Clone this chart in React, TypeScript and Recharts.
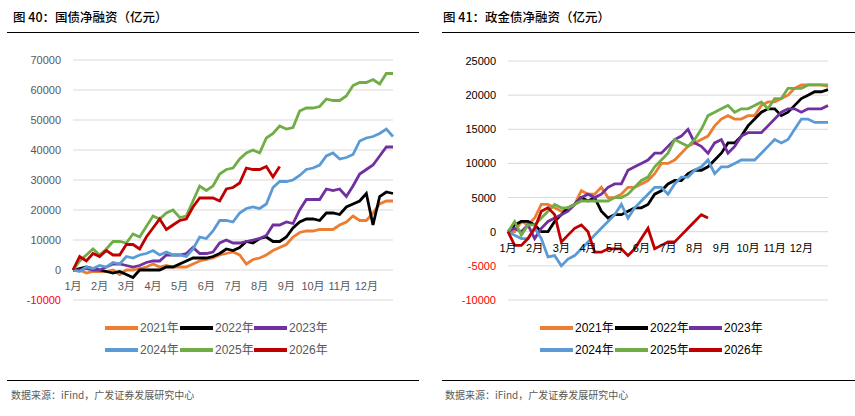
import React from 'react';
import { LineChart, Line, XAxis, YAxis, CartesianGrid, ReferenceDot } from 'recharts';

// month labels sit on the zero line, one per month start
const monthLabels = ['1月', '2月', '3月', '4月', '5月', '6月', '7月', '8月', '9月', '10月', '11月', '12月'];
// sample positions, in months from Jan 1 (4 per month)
const steps = Array.from({ length: 49 }, (_, i) => i / 4);

const years = ['2021年', '2022年', '2023年', '2024年', '2025年', '2026年'];
const colors = ['#ED7D31', '#000000', '#7030A0', '#5B9BD5', '#70AD47', '#C00000'];

// 国债净融资 (亿元)
const gz2021 = [0, 0, -1000, -500, -500, -500, 0, -1500, 0, 0, 500, 1000, 2000, 1000, 1500, 1000, 1000, 1000, 2000, 3000, 3500, 4000, 5000, 5500, 6000, 5000, 2000, 3500, 4000, 5000, 6500, 7500, 8500, 11000, 12500, 13000, 13000, 13500, 13500, 13500, 15000, 16000, 18000, 16500, 16500, 19000, 22000, 23000, 23000];
const gz2022 = [0, 500, 1000, 500, 0, -500, -1000, -500, -1500, -2500, 0, 0, 0, 0, 1000, 1000, 2000, 3000, 4000, 4000, 4000, 4500, 5500, 7000, 6500, 7500, 9500, 9000, 10500, 11000, 9500, 9500, 11000, 14000, 16000, 17000, 17000, 16500, 19000, 19000, 18500, 21000, 22000, 23000, 25500, 15000, 24500, 26000, 25500];
const gz2023 = [0, 0, 500, 0, 0, 1000, 2000, 2000, 1500, 1000, 1500, 2500, 3000, 3000, 5000, 5000, 5000, 5500, 7500, 5500, 5500, 6000, 9000, 10000, 9000, 9000, 9500, 10000, 10500, 11500, 15000, 15000, 16000, 15500, 20000, 23500, 23500, 23500, 27000, 26500, 27000, 24500, 28000, 32000, 33500, 35000, 38000, 41000, 41000];
const gz2024 = [0, -500, 1000, 500, 1500, 1000, 2500, 2000, 4500, 4000, 5000, 5500, 6500, 5000, 6000, 5000, 5000, 4500, 7000, 11000, 10500, 13000, 16500, 16500, 16000, 19000, 20500, 21000, 20500, 22000, 27500, 29500, 29500, 30000, 31500, 33500, 34000, 35000, 38000, 39000, 37000, 37500, 38500, 43000, 44000, 44500, 45500, 47000, 44500];
const gz2025 = [0, 3000, 5000, 7000, 5000, 7000, 9500, 9500, 9000, 12000, 11000, 14500, 18000, 17000, 19000, 20000, 17500, 18000, 23000, 28000, 26500, 28000, 32000, 33500, 34000, 37000, 39000, 40000, 39000, 44000, 45500, 48000, 47000, 47500, 53000, 54000, 54000, 54500, 57000, 56500, 56500, 58000, 61500, 62500, 62500, 63500, 62000, 65500, 65500];
const gz2026 = [0, 4500, 3000, 5500, 4500, 6500, 5000, 5000, 8500, 8500, 7000, 11000, 14000, 17000, 13500, 15000, 16500, 17000, 21000, 24000, 24000, 24000, 23000, 27000, 27500, 29000, 34000, 33500, 33500, 34500, 31000, 34500];

// 政金债净融资 (亿元)
const zj2021 = [0, 0, 1500, 1000, 2000, 4000, 4000, 3500, 3000, 3500, 4000, 6000, 5500, 5500, 6500, 5000, 5000, 5500, 6500, 6500, 7000, 7500, 8500, 10000, 10000, 10500, 11500, 12500, 13000, 13500, 14000, 15500, 16500, 17000, 16500, 16500, 17000, 17000, 18500, 19000, 19000, 19500, 20000, 21000, 21500, 21500, 21500, 21500, 21300];
const zj2022 = [0, 1000, 1500, 1500, 1000, 0, 0, 1500, 2500, 3500, 4000, 5000, 4500, 5000, 3000, 2000, 2500, 2500, 3000, 3500, 3500, 4000, 5500, 6000, 7000, 7500, 7500, 8500, 9000, 9000, 9500, 10500, 11500, 13000, 13000, 14000, 15500, 16500, 17500, 18000, 18000, 17000, 17500, 18500, 19500, 20000, 20500, 20500, 20800];
const zj2023 = [0, 500, 0, 1000, -1000, 500, 1500, 2000, 2500, 3000, 4000, 5000, 5500, 5000, 5500, 6500, 7000, 7000, 9000, 9500, 10000, 10500, 11500, 11500, 12500, 13500, 14000, 15000, 13000, 12500, 11500, 13000, 13500, 11500, 12500, 14000, 14500, 14500, 14500, 15500, 16500, 17500, 18000, 18000, 17500, 18000, 18000, 18000, 18500];
const zj2024 = [0, -500, -1000, -1000, 500, -1000, -3700, -3500, -5000, -4000, -3500, -2500, -1500, -500, 500, 1500, 2500, 4000, 2000, 3500, 4500, 5500, 6500, 6500, 5500, 7000, 8000, 8000, 9000, 9500, 10500, 8500, 9500, 9500, 10000, 10500, 10500, 10500, 11500, 12500, 13500, 13000, 13500, 15000, 16500, 16500, 16000, 16000, 16000];
const zj2025 = [0, 1500, -500, 1000, 1000, 2000, 3000, 4000, 3500, 3500, 4000, 4500, 4500, 4500, 4500, 4500, 5000, 5000, 5500, 6500, 7500, 8000, 9500, 10500, 11500, 13500, 13000, 12500, 13500, 15000, 17000, 17500, 18000, 18500, 17500, 18000, 18000, 18500, 19000, 18000, 19500, 19500, 21000, 21000, 21000, 21500, 21500, 21500, 21500];
const zj2026 = [0, -2000, -2000, -1000, 500, 3000, 3500, 2500, -1500, -500, 500, 1000, 0, -3000, -3000, -2500, -2500, -2500, -3500, -2500, -1000, 500, -2500, -2000, -1500, -1500, -500, 500, 1500, 2500, 2000];

const gzTicks = [-10000, 0, 10000, 20000, 30000, 40000, 50000, 60000, 70000];
const zjTicks = [-10000, -5000, 0, 5000, 10000, 15000, 20000, 25000];

const FONT = '"Liberation Sans", Arial, "Noto Sans CJK SC", sans-serif';
const CJK = '"Noto Sans CJK SC", "Liberation Sans", sans-serif';

function toRows(series: number[][]) {
  return steps.map((x, i) => {
    const row: Record<string, number | null> = { x };
    series.forEach((s, k) => {
      row['s' + k] = s[i] ?? null;
    });
    return row;
  });
}

type PanelProps = {
  left: number;
  title: string;
  rows: Record<string, number | null>[];
  ticks: number[];
  width: number;
  yWidth: number;
  marginRight: number;
  marginTop: number;
  textColor: string;
  legendX: number[];
  lineFrom: number;
  lineTo: number;
  sourceX: number;
};

function Panel(p: PanelProps) {
  const yTick = (props: any) => (
    <text
      x={props.x}
      y={props.y}
      dy={4}
      textAnchor="end"
      fontSize={11}
      fontFamily={FONT}
      fill={props.payload.value < 0 ? '#FF0000' : p.textColor}
    >
      {props.payload.value}
    </text>
  );

  return (
    <>
      <div style={{ position: 'absolute', left: p.left + 13, top: 7, fontFamily: CJK, fontSize: 12.5, fontWeight: 500, color: '#000', whiteSpace: 'nowrap' }}>
        {p.title}
      </div>
      <div style={{ position: 'absolute', left: p.lineFrom, width: p.lineTo - p.lineFrom, top: 32, height: 1, background: '#000' }} />
      <div style={{ position: 'absolute', left: p.left, top: 40 }}>
        <LineChart width={p.width} height={270} data={p.rows} margin={{ top: p.marginTop, right: p.marginRight, bottom: 10, left: 0 }}>
          <CartesianGrid vertical={false} stroke="#d9d9d9" />
          <XAxis type="number" dataKey="x" domain={[0, 12]} hide />
          <YAxis
            type="number"
            domain={[p.ticks[0], p.ticks[p.ticks.length - 1]]}
            ticks={p.ticks}
            width={p.yWidth}
            axisLine={false}
            tickLine={false}
            tickSize={0}
            tickMargin={12}
            tick={yTick}
            interval={0}
          />
          {years.map((y, k) => (
            <Line
              key={y}
              type="linear"
              dataKey={'s' + k}
              stroke={colors[k]}
              strokeWidth={2.8}
              dot={false}
              isAnimationActive={false}
            />
          ))}
          {monthLabels.map((m, i) => (
            <ReferenceDot
              key={m}
              x={i}
              y={0}
              r={0}
              fill="none"
              stroke="none"
              label={{ value: m, position: 'bottom', offset: 12, fill: p.textColor, fontSize: 11, fontFamily: FONT }}
            />
          ))}
        </LineChart>
      </div>
      {years.map((y, k) => {
        const lx = p.legendX[k % 3];
        const ly = k < 3 ? 328 : 350;
        return (
          <React.Fragment key={y}>
            <div style={{ position: 'absolute', left: lx, top: ly - 2, width: 33, height: 4, background: colors[k] }} />
            <div style={{ position: 'absolute', left: lx + 35, top: ly - 8, fontFamily: FONT, fontSize: 12, lineHeight: '16px', color: p.textColor, whiteSpace: 'nowrap' }}>
              {y}
            </div>
          </React.Fragment>
        );
      })}
      <div style={{ position: 'absolute', left: p.lineFrom, width: p.lineTo - p.lineFrom, top: 380, height: 1, background: '#000' }} />
      <div style={{ position: 'absolute', left: p.sourceX, top: 388, fontFamily: CJK, fontSize: 10, lineHeight: '14px', color: '#595959', whiteSpace: 'nowrap' }}>
        数据来源：iFind，广发证券发展研究中心
      </div>
    </>
  );
}

export default function App() {
  const gzRows = toRows([gz2021, gz2022, gz2023, gz2024, gz2025, gz2026]);
  const zjRows = toRows([zj2021, zj2022, zj2023, zj2024, zj2025, zj2026]);
  return (
    <div style={{ position: 'relative', width: 855, height: 416, background: '#fff', overflow: 'hidden' }}>
      <style>{'body{margin:0}'}</style>
      <Panel
        left={0}
        title="图 40：国债净融资（亿元）"
        rows={gzRows}
        ticks={gzTicks}
        width={428}
        yWidth={73}
        marginRight={35}
        marginTop={20}
        textColor="#595959"
        legendX={[105, 180, 254]}
        lineFrom={7}
        lineTo={419}
        sourceX={11}
      />
      <Panel
        left={430}
        title="图 41：政金债净融资（亿元）"
        rows={zjRows}
        ticks={zjTicks}
        width={425}
        yWidth={78}
        marginRight={27}
        marginTop={21}
        textColor="#000000"
        legendX={[540, 615, 689]}
        lineFrom={442}
        lineTo={855}
        sourceX={445}
      />
    </div>
  );
}
